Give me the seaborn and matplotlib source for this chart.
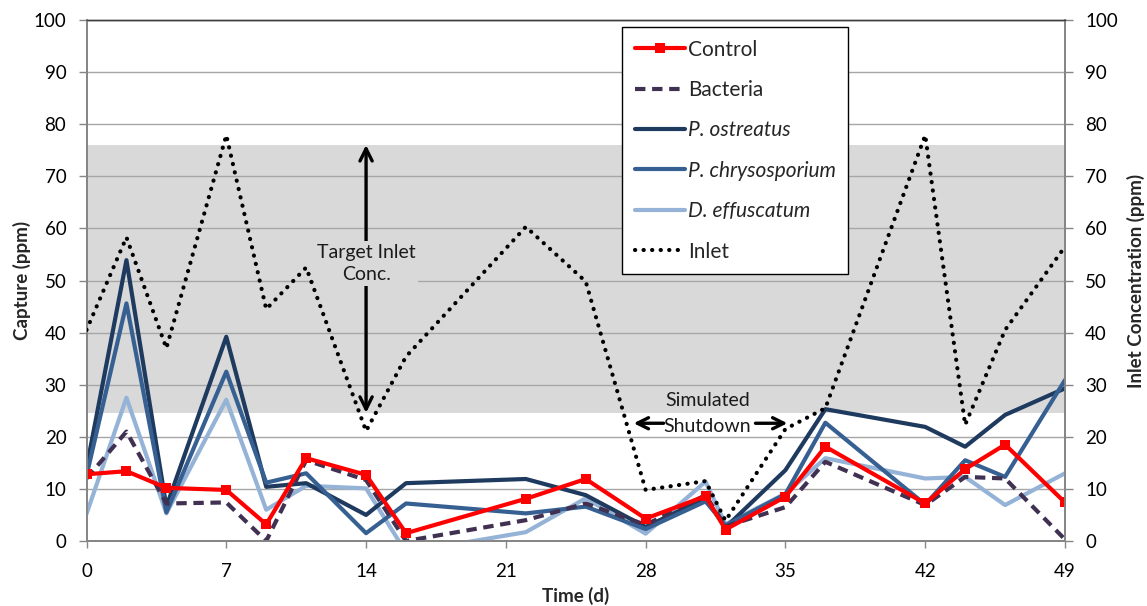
import numpy as np
import pandas as pd
import matplotlib
matplotlib.use("Agg")
import matplotlib.pyplot as plt
import seaborn as sns

# ---- data ----
days = [0, 2, 4, 7, 9, 11, 14, 16, 22, 25, 28, 31, 32, 35, 37, 42, 44, 46, 49]
control = [12.8, 13.4, 10.2, 9.8, 3.2, 15.9, 12.7, 1.5, 8.1, 11.9, 4.3, 8.6, 2.2, 8.5, 18.1, 7.2, 13.8, 18.5, 7.4]
bacteria = [12.0, 21.0, 7.2, 7.4, 0.0, 15.5, 11.7, 0.0, 4.0, 7.2, 3.1, 8.8, 2.8, 6.5, 15.2, 6.9, 12.3, 12.0, 0.3]
p_ostreatus = [14.0, 53.9, 6.6, 39.2, 10.4, 11.1, 5.0, 11.1, 11.9, 8.8, 2.7, 8.2, 2.6, 13.6, 25.3, 21.9, 18.1, 24.2, 29.3]
p_chrysosporium = [12.5, 45.6, 5.5, 32.5, 11.2, 13.0, 1.5, 7.2, 5.3, 6.6, 2.3, 7.6, 3.0, 9.0, 22.7, 7.0, 15.5, 12.3, 30.9]
d_effuscatum = [5.2, 27.5, 5.3, 27.1, 6.0, 10.6, 10.1, -2.2, 1.7, 8.2, 1.4, 11.4, 3.2, 9.1, 15.9, 12.0, 12.3, 6.9, 13.0]
inlet = [40.5, 58.3, 37.0, 77.9, 44.5, 52.5, 21.1, 35.4, 60.3, 49.8, 9.8, 11.5, 3.9, 21.5, 25.5, 77.9, 22.3, 40.5, 56.5]

target_low, target_high = 24.6, 76.0
x_ticks = [0, 7, 14, 21, 28, 35, 42, 49]
y_ticks = list(range(0, 101, 10))

sns.set_theme(style="white")
plt.rcParams['font.family'] = ['Lato', 'DejaVu Sans']

fig = plt.figure(figsize=(11.47, 6.06), dpi=100)
ax = fig.add_axes([86.5 / 1147, 1 - 541 / 606, (1065 - 86.5) / 1147, 521 / 606])
ax2 = ax.twinx()

grid_c = '#A6A6A6'
spine_c = '#868686'

ax.axhspan(target_low, target_high, color='#D9D9D9', zorder=0.2, lw=0)
ax.set_axisbelow(True)
ax.yaxis.grid(True, color=grid_c, lw=1.0)
ax.xaxis.grid(False)

df = pd.DataFrame({'day': days, 'Control': control, 'Bacteria': bacteria,
                   'P. ostreatus': p_ostreatus, 'P. chrysosporium': p_chrysosporium,
                   'D. effuscatum': d_effuscatum, 'Inlet': inlet})

lw = 3.0
sns.lineplot(data=df, x='day', y='Control', ax=ax, color='#FF0000', lw=lw, marker='s',
             markersize=7, markeredgewidth=0, label='Control', zorder=6)
sns.lineplot(data=df, x='day', y='Bacteria', ax=ax, color='#403152', lw=lw,
             linestyle=(0, (2.5, 1.6)), label='Bacteria', zorder=5)
sns.lineplot(data=df, x='day', y='P. ostreatus', ax=ax, color='#1F3A5F', lw=lw,
             label='P. ostreatus', zorder=4)
sns.lineplot(data=df, x='day', y='P. chrysosporium', ax=ax, color='#376092', lw=lw,
             label='P. chrysosporium', zorder=4)
sns.lineplot(data=df, x='day', y='D. effuscatum', ax=ax, color='#95B3D7', lw=lw,
             label='D. effuscatum', zorder=3)
sns.lineplot(data=df, x='day', y='Inlet', ax=ax2, color='black', lw=3.0,
             linestyle=(0, (0.05, 2.0)), dash_capstyle='round', label='Inlet', zorder=7)

for a in (ax, ax2):
    a.set_xlim(0, 49)
    a.set_ylim(0, 100)
    a.set_yticks(y_ticks)
ax.set_xticks(x_ticks)

for a in (ax, ax2):
    for s in ['left', 'bottom', 'right']:
        a.spines[s].set_color(spine_c)
        a.spines[s].set_linewidth(1.3)
    a.spines['top'].set_color('#404040')
    a.spines['top'].set_linewidth(1.0)

tick_fs = 13.5
ax.tick_params(axis='x', direction='out', length=5, width=1, color=spine_c,
               labelsize=tick_fs, labelcolor='black', pad=11, bottom=True)
ax.tick_params(axis='y', direction='out', length=5.5, width=1, color=spine_c,
               labelsize=tick_fs, labelcolor='black', pad=9, left=True)
ax2.tick_params(axis='y', direction='out', length=5.5, width=1, color=spine_c,
                labelsize=tick_fs, labelcolor='black', pad=9, right=True)

lab_fs = 13.5
ax.set_xlabel('Time (d)', fontsize=lab_fs, fontweight='bold')
ax.set_ylabel('Capture (ppm)', fontsize=lab_fs, fontweight='bold')
ax2.set_ylabel('Inlet Concentration (ppm)', fontsize=lab_fs, fontweight='bold')
ax.yaxis.set_label_coords(-0.066, 0.5)
ax2.yaxis.set_label_coords(1.0725, 0.5)
ax.xaxis.set_label_coords(0.5, -0.105)
for lab in (ax.xaxis.label, ax.yaxis.label, ax2.yaxis.label):
    lab.set_va('center')
    lab.set_ha('center')

# legend
h1, l1 = ax.get_legend_handles_labels()
h2, l2 = ax2.get_legend_handles_labels()
if ax.get_legend():
    ax.get_legend().remove()
if ax2.get_legend():
    ax2.get_legend().remove()
leg = ax2.legend(h1 + h2, l1 + l2, loc='upper left',
                 bbox_to_anchor=(622 / 1147, 1 - 27 / 606), bbox_transform=fig.transFigure,
                 fontsize=15, frameon=True, fancybox=False, framealpha=1,
                 edgecolor='black', handlelength=2.4, handletextpad=0.15,
                 labelspacing=0.98, borderpad=0.6, borderaxespad=0)
leg.get_frame().set_linewidth(1.0)
leg.set_zorder(20)
for t in leg.get_texts():
    if t.get_text().startswith(('P.', 'D.')):
        t.set_fontstyle('italic')

# annotations
ann_fs = 14
ax.annotate('', xy=(14, target_high), xytext=(14, target_low),
            arrowprops=dict(arrowstyle='<->', lw=2.4, color='black', mutation_scale=22,
                            shrinkA=0, shrinkB=0), zorder=8)
ax.text(14, 53.3, 'Target Inlet\nConc.', ha='center', va='center', fontsize=ann_fs,
        color='#1a1a1a', linespacing=1.4, zorder=9,
        bbox=dict(facecolor='#D9D9D9', edgecolor='none', pad=2))

ax.text(31.1, 27.0, 'Simulated', ha='center', va='center', fontsize=ann_fs, color='#1a1a1a', zorder=9)
ax.text(31.1, 21.9, 'Shutdown', ha='center', va='center', fontsize=ann_fs, color='#1a1a1a', zorder=9)
ax.annotate('', xy=(27.4, 22.6), xytext=(28.9, 22.6),
            arrowprops=dict(arrowstyle='->', lw=2.4, color='black', mutation_scale=20,
                            shrinkA=0, shrinkB=0), zorder=9)
ax.annotate('', xy=(35.1, 22.6), xytext=(33.5, 22.6),
            arrowprops=dict(arrowstyle='->', lw=2.4, color='black', mutation_scale=20,
                            shrinkA=0, shrinkB=0), zorder=9)

fig.savefig('out.png', dpi=100)
